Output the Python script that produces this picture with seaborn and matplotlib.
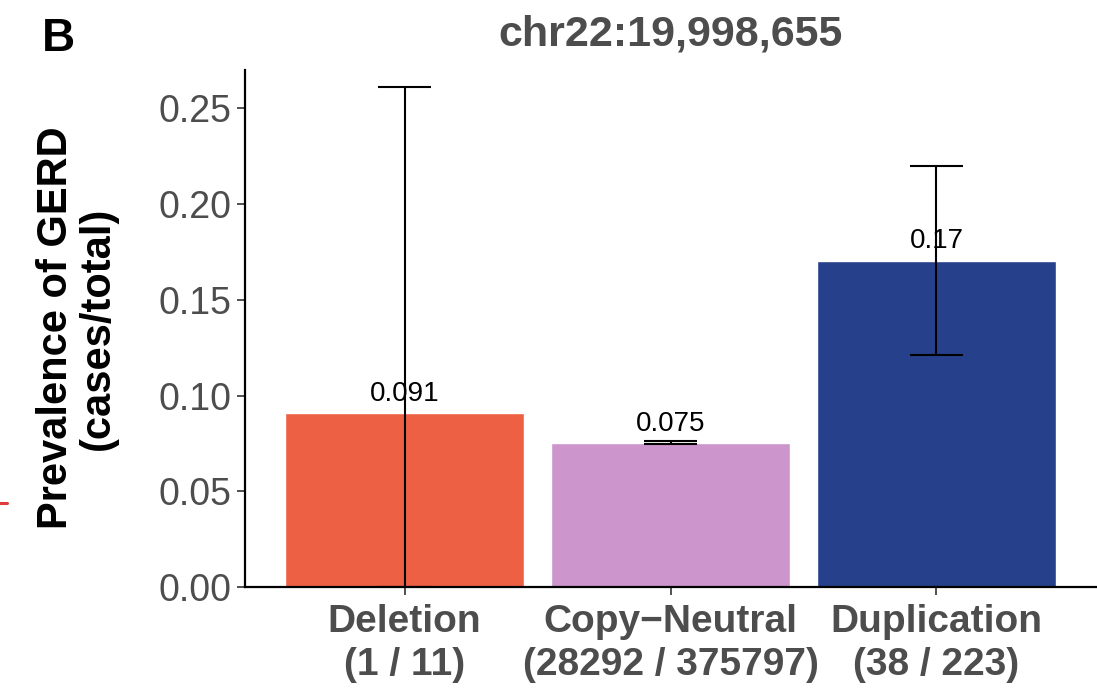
import matplotlib
matplotlib.use("Agg")
import matplotlib.pyplot as plt
import seaborn as sns
import pandas as pd
from matplotlib.lines import Line2D

# ---- data ----
categories = ["Deletion", "Copy\u2212Neutral", "Duplication"]
counts = ["(1 / 11)", "(28292 / 375797)", "(38 / 223)"]
prevalence = [0.0909, 0.0753, 0.1704]
value_labels = ["0.091", "0.075", "0.17"]
ci_lower = [0.0, 0.0745, 0.121]
ci_upper = [0.261, 0.0761, 0.220]
bar_colors = ["#EE6044", "#CC95CC", "#26408B"]
title = "chr22:19,998,655"
y_ticks = [0.00, 0.05, 0.10, 0.15, 0.20, 0.25]

sns.set_theme(style="white")
plt.rcParams["font.family"] = ["Liberation Sans", "DejaVu Sans"]

grey = "#4D4D4D"
df = pd.DataFrame({"cat": categories, "prev": prevalence})

fig = plt.figure(figsize=(10.97, 6.92), dpi=100)
ax = fig.add_axes([245 / 1097, 1 - 587 / 692, (1096 - 245) / 1097, (587 - 70) / 692])

sns.barplot(data=df, x="cat", y="prev", hue="cat", palette=bar_colors,
            order=categories, hue_order=categories, width=0.9, legend=False,
            errorbar=None, saturation=1, ax=ax, zorder=1)

for i, (v, lab) in enumerate(zip(prevalence, value_labels)):
    ax.annotate(lab, (i, v), xytext=(0, 4.5), textcoords="offset points",
                ha="center", va="bottom", fontsize=20, color="black", zorder=2)

for i, (v, lo, hi) in enumerate(zip(prevalence, ci_lower, ci_upper)):
    ax.errorbar([i], [v], yerr=[[v - lo], [hi - v]], fmt="none", ecolor="black",
                elinewidth=1.5, capsize=0, zorder=3)
    ax.plot([i - 0.1, i + 0.1], [lo, lo], color="black", lw=1.5, zorder=3, solid_capstyle="butt")
    ax.plot([i - 0.1, i + 0.1], [hi, hi], color="black", lw=1.5, zorder=3, solid_capstyle="butt")

ax.set_xlim(-0.6, 2.6)
ax.set_ylim(0, 0.27)
ax.set_yticks(y_ticks)
ax.set_yticklabels([f"{t:.2f}" for t in y_ticks], fontsize=27, color=grey)
ax.set_xticks(range(len(categories)))
ax.set_xticklabels([f"{c}\n{n}" for c, n in zip(categories, counts)],
                   fontsize=28, fontweight="bold", color=grey, linespacing=1.22)
ax.tick_params(axis="both", length=6, width=1.2, color="#333333", direction="out",
               bottom=True, left=True)
ax.tick_params(axis="y", pad=4)
ax.tick_params(axis="x", pad=6.5)
ax.set_xlabel("")
ax.set_ylabel("")

for s in ["top", "right"]:
    ax.spines[s].set_visible(False)
for s in ["left", "bottom"]:
    ax.spines[s].set_color("black")
    ax.spines[s].set_linewidth(1.6)
ax.grid(False)

ax.set_title(title, fontsize=31, fontweight="bold", color=grey, pad=18)

fig.text(77 / 1097, 1 - 328 / 692, "Prevalence of GERD\n(cases/total)", rotation=90,
         ha="center", va="center", fontsize=30, fontweight="bold", color="black",
         multialignment="center", linespacing=1.05)
fig.text(42 / 1097, 1 - 51 / 692, "B", fontsize=33, fontweight="bold", color="black",
         ha="left", va="baseline")

# small red mark at the left edge (neighbouring panel remnant)
fig.add_artist(Line2D([0, 7 / 1097], [1 - 503 / 692, 1 - 503 / 692],
                      color="#E03A3A", lw=2.2, transform=fig.transFigure))

fig.savefig("out.png", dpi=100)
